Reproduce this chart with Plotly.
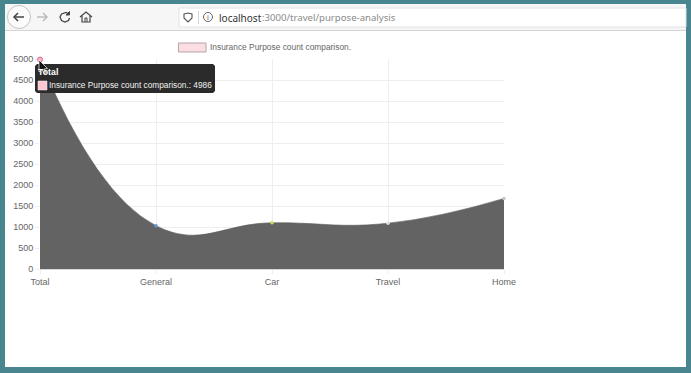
import plotly.graph_objects as go

W, H = 691, 373
L, R, T, B = 40, 504, 59, 269

categories = ["Total", "General", "Car", "Travel", "Home"]
values = [4986, 1030, 1100, 1090, 1680]
point_colors = ["#f48fa8", "#5b9bd5", "#d6d66a", "#dddddd", "#c9c9c9"]
y_ticks = [0, 500, 1000, 1500, 2000, 2500, 3000, 3500, 4000, 4500, 5000]
series_name = "Insurance Purpose count comparison."
tooltip_title = "Total"
tooltip_value = 4986


def px(x):
    return (x - L) / (R - L)


def py(y):
    return (B - y) / (B - T)


def rect(x0, y0, x1, y1, fill, line="rgba(0,0,0,0)", width=0):
    return dict(type="rect", xref="paper", yref="paper", x0=px(x0), x1=px(x1), y0=py(y0), y1=py(y1),
                fillcolor=fill, line=dict(color=line, width=width), layer="above")


def path(points, fill="rgba(0,0,0,0)", line="rgba(0,0,0,0)", width=0, close=True):
    d = "M" + " L".join(f"{px(a):.5f},{py(b):.5f}" for a, b in points) + (" Z" if close else "")
    return dict(type="path", xref="paper", yref="paper", path=d, fillcolor=fill,
                line=dict(color=line, width=width), layer="above")


def circle(cx, cy, r, fill="rgba(0,0,0,0)", line="#bbbbbb", width=1):
    return dict(type="circle", xref="paper", yref="paper", x0=px(cx - r), x1=px(cx + r),
                y0=py(cy - r), y1=py(cy + r), fillcolor=fill, line=dict(color=line, width=width), layer="above")


def label(x, y, text, size=9, color="#666666", anchor="left", family="Liberation Sans"):
    return dict(xref="paper", yref="paper", x=px(x), y=py(y), text=text, showarrow=False, xanchor=anchor,
                yanchor="middle", font=dict(size=size, color=color, family=family), borderpad=0, borderwidth=0)


TEAL = "#47858f"
shapes = [
    # window frame
    rect(0, 0, W, 4, TEAL), rect(0, 0, 5, H, TEAL), rect(686, 0, W, H, TEAL), rect(0, 367, W, H, TEAL),
    # toolbar
    rect(5, 4, 686, 30, "#f6f6f6"),
    rect(5, 30, 686, 31, "#d4d4d4"),
    rect(179, 8, 686, 27, "#ffffff", "#e2e2e2", 1),
    circle(19, 17, 11.5, "#fbfbfb", "#c4c4c4", 1),
    path([(14, 17), (24, 17)], line="#444444", width=1.5, close=False),
    path([(18, 13), (14, 17), (18, 21)], line="#444444", width=1.5, close=False),
    path([(37, 17), (47, 17)], line="#b5b5b5", width=1.3, close=False),
    path([(43, 13), (47, 17), (43, 21)], line="#b5b5b5", width=1.3, close=False),
    path([(69, 14), (66, 12.5), (61.5, 14), (60, 17), (61.5, 20.5), (65, 22), (68.5, 20.5), (69.5, 18)],
         line="#444444", width=1.3, close=False),
    path([(69.5, 11.5), (69.5, 15), (66, 15)], fill="#444444", line="#444444", width=1),
    path([(80, 17), (86, 12), (92, 17)], line="#444444", width=1.2, close=False),
    path([(82, 16), (82, 22), (90, 22), (90, 16)], line="#444444", width=1.2, close=False),
    path([(85, 22), (85, 18), (87, 18), (87, 22)], line="#444444", width=1, close=False),
    path([(184, 14), (188, 13), (192, 14), (192, 18), (188, 22), (184, 18)], line="#555555", width=1.1),
    rect(198, 11, 199, 24, "#d4d4d4"),
    circle(208, 17, 4.5, line="#666666", width=1),
    # legend box
    rect(178.5, 43, 206, 52, "#fbdde4", "#b9a3a8", 1),
    # tooltip
    path([(37, 64), (213, 64), (215, 66), (215, 91), (213, 93), (37, 93), (35, 91), (35, 66)], fill="#2b2b2b"),
    rect(38, 81, 47, 90, "#f9c6d2", "#ffffff", 0.5),
    circle(40, 59.5, 2.5, "#f4b6c6", "#d9688a", 1),
    # mouse pointer
    path([(39, 60), (39, 72), (42, 69.5), (44.5, 74), (46, 73), (44, 69), (47.5, 68.5)], fill="#111111",
         line="#ffffff", width=0.7),
]

annotations = [
    label(210, 46.5, series_name, size=8.4),
    label(37.5, 72, f"<b>{tooltip_title}</b>", size=8.8, color="#ffffff"),
    label(48.5, 85, f"{series_name}: {tooltip_value}", size=8.3, color="#f2f2f2"),
    label(219, 17.5, "localhost", size=10, color="#333333", family="Noto Sans"),
    label(262, 17.5, ":3000/travel/purpose-analysis", size=9.6, color="#8a8a8a", family="Noto Sans"),
    label(208, 17.5, "i", size=7, color="#666666", anchor="center", family="Noto Sans"),
]

fig = go.Figure(
    go.Scatter(
        x=categories,
        y=values,
        name=series_name,
        mode="lines+markers",
        line=dict(shape="spline", smoothing=1.3, color="rgba(90,90,90,0.6)", width=1),
        fill="tozeroy",
        fillcolor="#636363",
        marker=dict(size=3.5, color=point_colors),
        cliponaxis=False,
        showlegend=False,
    )
)
fig.update_layout(
    width=W,
    height=H,
    margin=dict(l=L, r=W - R, t=T, b=H - B, autoexpand=False),
    paper_bgcolor="#ffffff",
    plot_bgcolor="#ffffff",
    font=dict(family="Liberation Sans", size=9, color="#666666"),
    shapes=shapes,
    annotations=annotations,
)
fig.update_xaxes(range=[0, 4], showgrid=True, gridcolor="#eeeeee", gridwidth=1, zeroline=False,
                 ticks="outside", ticklen=4, tickcolor="#eeeeee", showline=True, linecolor="#d8d8d8",
                 tickfont=dict(size=9, color="#666666"))
fig.update_yaxes(range=[0, 5000], tickvals=y_ticks, showgrid=True, gridcolor="#eeeeee", gridwidth=1, zeroline=False,
                 ticks="outside", ticklen=4, tickcolor="#eeeeee", showline=False,
                 tickfont=dict(size=9, color="#666666"))
fig.write_html("out.html", config={"displayModeBar": False},
               post_script="document.body.style.margin='0';document.body.style.overflow='hidden';")
